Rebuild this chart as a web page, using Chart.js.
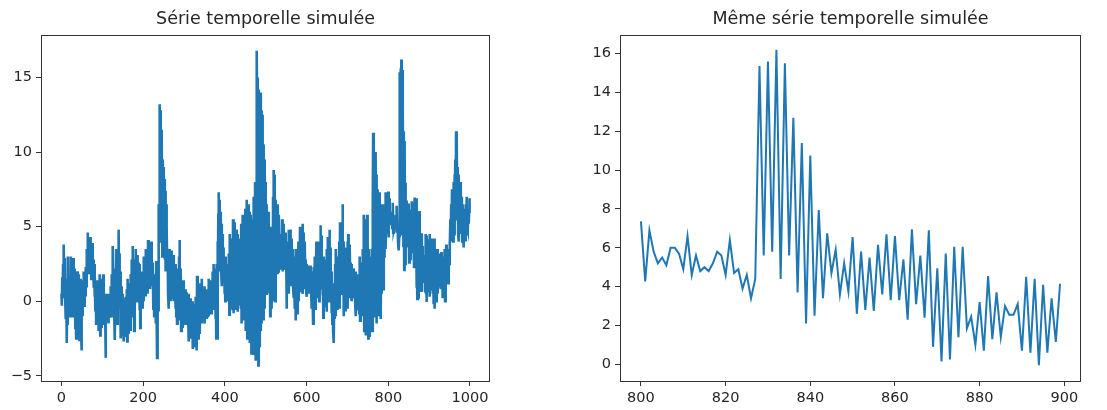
<!DOCTYPE html>
<html>
<head>
<meta charset="utf-8">
<script src="https://cdn.jsdelivr.net/npm/chart.js@4.4.1/dist/chart.umd.min.js"></script>
<style>
  html, body { margin: 0; padding: 0; background: #fff; }
  #wrap { position: relative; width: 1107px; height: 410px; }
  #leftChart { position: absolute; left: 0; top: 0; }
  #rightChart { position: absolute; left: 553px; top: 0; }
</style>
</head>
<body>
<div id="wrap">
  <canvas id="leftChart" width="553" height="410"></canvas>
  <canvas id="rightChart" width="554" height="410"></canvas>
</div>
<script>
// --- Values ---
// series, points 0..799
const serieDebut = [
  0.5, -0.3, 1.6, 0.2, 2.5, 0.8, 3.8, 1.2, 2.9, 0.4,
  1.5, -1.2, 0.8, -2.8, 0.3, -1.6, 3.0, -0.5, 1.2, -1.0,
  0.4, -0.8, 1.5, 3.0, 0.2, 1.8, -1.0, 2.6, 0.5, 2.9,
  1.2, 2.2, -0.4, 1.5, -1.8, 0.6, -2.5, 1.0, -1.2, 2.0,
  -0.5, 1.8, -1.5, 0.9, -2.6, 0.2, -1.2, 1.5, -2.0, -3.3,
  -0.8, 0.5, -1.0, 1.4, 0.2, 2.0, -0.3, 1.1, 0.4, 1.9,
  2.3, 1.0, 3.5, 2.0, 4.6, 2.4, 4.1, 1.8, 3.6, 2.2,
  4.3, 2.0, 3.8, 1.5, 3.0, 2.4, 3.9, 1.6, 2.8, 0.9,
  2.5, 0.3, 1.8, -0.6, 1.2, -1.5, 0.8, -0.9, 1.4, -1.2,
  0.6, -2.0, 1.2, -1.3, 1.8, -2.3, 0.4, -0.9, 1.5, -1.8,
  0.9, -1.2, 1.8, -0.5, 1.0, -1.5, 0.3, -0.8, -3.8, -0.2,
  0.5, -1.4, 0.2, -0.9, 0.4, -1.5, -0.2, 0.5, -1.1, 0.1,
  -0.6, 1.0, -1.0, 1.8, -0.3, 2.6, 3.7, 0.5, 2.2, -0.4,
  1.5, -2.6, 0.8, -1.2, 3.5, 0.4, 2.8, -1.5, 1.6, 0.2,
  4.8, 1.5, 3.2, -0.5, 2.0, -2.5, 1.0, -1.4, 0.6, -1.8,
  0.5, -2.0, -0.4, -2.7, 0.2, -1.5, -0.2, -2.4, 0.3, -1.2,
  0.8, -2.7, 1.5, -1.6, 0.4, -2.2, 1.2, -0.8, 0.6, -2.0,
  1.8, -1.0, 2.8, -0.5, 1.5, 3.7, 0.4, 2.5, -2.0, 1.0,
  2.8, 0.5, 3.5, 1.2, 2.2, 0.0, 3.1, 1.5, 2.6, 0.8,
  1.9, -0.6, 2.5, -1.8, 1.2, -0.4, 2.0, 0.2, 1.5, -0.5,
  1.8, 0.0, 3.0, 0.8, 2.4, 0.4, 3.5, 1.0, 2.2, 0.6,
  3.2, 0.5, 4.1, 1.4, 3.6, 0.9, 2.8, 1.6, 3.9, 1.2,
  4.0, 1.0, 2.6, 0.8, 2.0, -0.5, 1.5, -1.0, 1.8, 0.2,
  1.2, -1.5, 2.7, -0.8, -3.8, 0.5, 2.0, -0.6, 6.5, 4.0,
  13.2, 6.5, 12.8, 5.0, 11.5, 4.2, 10.8, 3.0, 9.5, 4.5,
  9.0, 3.5, 8.2, 2.8, 7.4, 2.0, 6.5, 3.2, 5.0, 2.1,
  3.3, 0.5, 2.6, -0.5, 3.5, 0.8, 2.2, 0.0, 1.5, 0.6,
  3.4, 0.2, 2.5, 1.0, 3.1, 0.0, 2.0, 0.8, 1.6, -0.5,
  2.5, -1.0, 1.8, -1.5, 1.2, -0.8, 2.2, -0.2, 3.0, 4.1,
  1.5, -1.2, 2.2, -2.0, 1.0, -1.4, 0.6, -1.8, 1.4, -0.9,
  1.0, -1.5, 0.4, -0.8, 0.8, -1.2, -0.2, 0.6, -1.5, 0.2,
  -0.5, -2.7, 0.5, -1.8, -0.3, -2.2, 0.2, -2.5, -0.8, -2.0,
  0.0, -3.2, -0.9, -2.4, -0.2, -3.0, -1.0, -2.6, 0.3, -3.1,
  -1.2, -3.3, 1.7, -2.0, 0.5, -2.5, 1.2, -1.5, 0.2, -2.2,
  1.2, -1.0, 0.6, -1.5, 1.5, -0.6, 0.8, -1.2, 0.3, -0.8,
  1.0, -1.5, 0.5, -0.7, 0.8, -1.2, 0.2, -1.0, 0.6, -0.4,
  1.5, -1.0, 0.8, -0.5, 1.2, 0.0, 1.4, -0.8, 0.9, -0.2,
  2.0, -0.5, 2.5, 0.5, 1.8, 0.0, 2.2, -1.2, 1.6, -2.5,
  2.5, -2.5, 4.0, 0.5, 5.8, 7.3, 3.5, 6.8, 2.0, 5.5,
  6.0, 2.0, 5.2, 1.0, 4.5, 1.8, 3.6, 1.2, 3.0, 0.5,
  2.6, 0.0, 3.0, 0.6, 2.2, 0.2, 1.8, 0.0, 2.5, 0.4,
  3.2, -0.9, 4.5, 0.5, 2.8, -0.5, 3.8, 0.2, 4.2, -0.6,
  5.5, -0.8, 4.2, 0.2, 5.3, -0.5, 3.5, 0.8, 4.8, -0.3,
  4.5, -0.7, 3.6, 0.4, 4.2, -0.2, 2.8, 0.6, 3.9, -0.5,
  5.2, -1.5, 4.0, 0.2, 5.8, -0.8, 4.6, -1.2, 5.0, 0.0,
  6.2, -2.0, 5.5, -1.0, 6.8, -2.5, 5.0, -1.5, 6.5, -0.8,
  6.0, -2.8, 5.2, -1.8, 5.8, -3.5, 4.8, -2.2, 5.5, -3.0,
  7.0, -3.6, 6.5, -2.8, 8.0, -4.0, 7.5, -3.2, 16.8, 12.0,
  -3.5, 15.0, -4.3, 14.2, -3.0, 13.5, -2.5, 14.0, -2.0, 12.8,
  -1.5, 12.5, -0.8, 11.0, -1.2, 10.5, 0.0, 9.5, -0.5, 8.0,
  7.0, 0.5, 6.5, 1.5, 5.5, 0.8, 6.0, 1.2, 5.0, 0.6,
  4.5, -1.0, 5.0, 0.5, 3.8, -0.5, 4.6, 0.0, 7.0, 2.0,
  8.8, 1.0, 8.5, 0.0, 6.8, 1.5, 6.0, 2.5, 5.5, 1.8,
  6.5, 2.0, 5.8, 2.8, 4.5, 2.2, 4.0, 3.0, 4.4, 2.4,
  5.5, 2.0, 4.8, 2.6, 5.2, 2.2, 4.0, 3.0, 4.6, 2.1,
  3.5, -0.5, 4.0, 0.8, 3.0, 1.5, 4.8, 0.5, 3.6, 1.2,
  4.8, 1.0, 3.6, 2.0, 4.2, 1.4, 3.5, 1.0, 2.8, 0.2,
  3.0, -0.5, 2.5, -1.3, 3.5, 0.0, 2.2, -0.8, 3.2, 0.5,
  4.0, 0.0, 3.5, 1.0, 5.0, 0.6, 4.2, 1.5, 3.8, 0.8,
  5.2, 0.5, 4.6, 1.2, 3.5, 0.8, 4.0, 1.5, 2.8, 0.6,
  2.5, 0.3, 2.0, 1.0, 2.4, 0.5, 1.8, 1.2, 2.2, 0.6,
  2.4, 0.8, 1.5, -0.5, 2.0, 0.0, -1.5, 1.2, 2.3, 0.4,
  3.0, -0.5, 2.5, 0.5, 4.0, 1.0, 3.2, 0.2, 2.6, 0.8,
  4.0, 0.0, 3.5, 1.2, 5.1, 0.8, 4.4, 1.5, 3.0, 0.4,
  2.5, -1.1, 3.0, 0.5, 2.2, -0.4, 2.8, 0.0, 1.8, -0.7,
  3.5, 0.2, 4.3, 0.8, 3.0, 0.0, 4.8, 1.2, 3.6, 0.5,
  2.0, -0.8, 1.5, -1.5, 1.2, -2.0, 0.8, -2.8, 1.0, -1.2,
  2.5, -1.0, 3.5, 0.2, 2.8, -0.5, 3.0, 0.5, 2.2, 0.0,
  4.0, -0.5, 5.3, 1.0, 4.5, 0.5, 3.8, 1.2, 6.5, 2.0,
  4.0, -1.0, 3.2, 0.5, 2.5, -0.6, 3.6, 0.0, 2.8, -0.2,
  4.0, -0.5, 4.5, 0.5, 3.0, 0.2, 3.8, 1.0, 2.6, 0.4,
  2.5, 0.0, 2.0, 0.8, 1.5, 0.2, 2.2, 0.6, 1.2, -0.2,
  2.0, -1.0, 1.5, 0.0, 1.8, -0.6, 1.0, -0.2, 1.6, -0.8,
  3.0, -1.3, 2.4, 0.0, 1.8, -0.8, 2.6, -1.0, 3.5, 0.5,
  5.8, -2.0, 4.5, -1.0, 5.5, -2.3, 3.8, -1.5, 5.8, -2.0,
  4.0, -2.5, 3.5, -1.5, 2.8, -2.4, 3.0, -2.0, 2.5, -1.5,
  3.5, -2.0, 6.0, 11.3, 2.0, 10.8, -1.0, 9.5, 1.0, 10.0,
  3.0, 8.5, -1.5, 7.5, 1.0, 6.8, -1.0, 5.5, 0.5, 7.3,
  2.0, 6.0, -1.2, 5.5, 0.5, 6.5, 1.2, 4.0, 0.8, 5.2,
  3.0, 6.5, 4.0, 7.3, 3.5, 6.0, 5.0, 7.0, 4.5, 6.2
];

// points 800..899 (also the right-hand panel)
const serieZoom = [
  7.36, 4.27, 6.9, 5.8, 5.2, 5.5, 5.1, 6.0, 6.0, 5.7,
  4.9, 6.6, 4.6, 5.6, 4.8, 5.0, 4.8, 5.2, 5.8, 5.6,
  4.6, 6.4, 4.7, 4.9, 3.9, 4.6, 3.4, 4.4, 15.36, 5.6,
  15.6, 5.8, 16.2, 4.4, 15.5, 5.6, 12.7, 3.7, 11.4, 2.1,
  10.75, 2.5, 7.95, 3.4, 6.75, 4.7, 5.9, 3.6, 5.2, 3.75,
  6.55, 2.6, 5.8, 2.8, 5.5, 2.75, 6.15, 3.6, 6.7, 3.3,
  6.6, 3.3, 5.4, 2.3, 6.95, 3.1, 5.6, 2.4, 6.9, 0.9,
  4.95, 0.15, 5.7, 0.25, 6.05, 1.4, 6.05, 1.85, 2.45, 1.0,
  3.2, 0.7, 4.55, 1.3, 3.7, 1.4, 3.0, 2.55, 2.55, 3.1,
  0.7, 4.5, 0.6, 4.4, -0.05, 4.1, 0.6, 3.4, 1.15, 4.15
];

// points 900..999
const serieFin = [
  4.0, 0.3, 4.5, 1.2, 3.5, 0.8, 4.2, 1.5, 3.0, 0.5,
  3.8, -0.2, 4.2, -0.5, 3.5, 0.8, 2.8, 0.0, 3.2, 0.6,
  3.5, 0.5, 2.8, 1.2, 3.2, 1.0, 2.5, 1.5, 3.0, 0.8,
  3.3, 1.0, 2.6, 0.2, 3.0, 1.5, 2.2, 0.5, 3.5, 0.0,
  3.0, 1.0, 3.8, 1.5, 3.2, 2.0, 3.5, 1.2, 3.0, 2.5,
  4.0, 3.5, 5.5, 4.0, 6.5, 4.5, 7.5, 5.0, 6.0, 4.0,
  8.0, 4.5, 8.5, 5.0, 9.5, 6.0, 11.4, 7.0, 11.0, 5.5,
  9.0, 4.5, 8.5, 4.0, 7.5, 5.0, 8.0, 4.5, 6.5, 5.5,
  7.0, 4.0, 6.5, 5.0, 6.0, 3.6, 5.5, 4.2, 6.2, 4.0,
  6.5, 4.5, 7.0, 5.0, 6.2, 4.8, 5.8, 5.2, 6.0, 6.9
];

const zoomStart = 800;

// tick labels
const leftXTicks = [0, 200, 400, 600, 800, 1000];
const leftYTicks = [-5, 0, 5, 10, 15];
const rightXTicks = [800, 820, 840, 860, 880, 900];
const rightYTicks = [0, 2, 4, 6, 8, 10, 12, 14, 16];

const lineColor = "#1f77b4";
const textColor = "#262626";
const fontFamily = "'DejaVu Sans', sans-serif";

// full series for the left panel
const serieComplete = serieDebut.concat(serieZoom, serieFin);

// draws the four sides of the axes box
const boxPlugin = {
  id: "axesBox",
  afterDraw(chart) {
    const a = chart.chartArea;
    const ctx = chart.ctx;
    ctx.save();
    ctx.strokeStyle = "#333";
    ctx.lineWidth = 1;
    ctx.strokeRect(Math.round(a.left) + 0.5, Math.round(a.top) + 0.5,
      Math.round(a.right - a.left) - 1, Math.round(a.bottom - a.top));
    ctx.restore();
  },
};

function fmt(v) {
  return v < 0 ? "\u2212" + Math.abs(v) : String(v);
}

function makeScale(min, max, tickList, fitSize, isX) {
  return {
    type: "linear",
    min: min,
    max: max,
    border: { display: false },
    grid: {
      display: true,
      drawOnChartArea: false,
      drawTicks: true,
      tickLength: 5,
      tickColor: "#333",
      tickWidth: 1,
    },
    ticks: {
      color: textColor,
      font: { family: fontFamily, size: 14.5 },
      padding: 4,
      maxRotation: 0,
      autoSkip: false,
      callback: (v) => fmt(v),
    },
    afterBuildTicks: (scale) => {
      scale.ticks = tickList.map((v) => ({ value: v }));
    },
    afterFit: (scale) => {
      if (isX) scale.height = fitSize;
      else scale.width = fitSize;
    },
  };
}

function makeOptions(title, xScale, yScale, padRight) {
  return {
    responsive: false,
    animation: false,
    events: [],
    layout: { padding: { left: 0, right: padRight, top: 0, bottom: 0 } },
    plugins: {
      legend: { display: false },
      tooltip: { enabled: false },
      title: {
        display: true,
        text: title,
        fullSize: false,
        color: textColor,
        font: { family: fontFamily, size: 17.5, weight: "normal" },
        padding: { top: 9, bottom: 5 },
      },
    },
    scales: { x: xScale, y: yScale },
  };
}

// left panel: whole series
new Chart(document.getElementById("leftChart").getContext("2d"), {
  type: "line",
  data: {
    datasets: [
      {
        data: serieComplete.map((y, i) => ({ x: i, y: y })),
        borderColor: lineColor,
        borderWidth: 2.6,
        pointRadius: 0,
        tension: 0,
      },
    ],
  },
  options: makeOptions(
    "Série temporelle simulée",
    makeScale(-50, 1049, leftXTicks, 29, true),
    makeScale(-5.35, 17.85, leftYTicks, 41, false),
    63
  ),
  plugins: [boxPlugin],
});

// right panel: points 800..899
new Chart(document.getElementById("rightChart").getContext("2d"), {
  type: "line",
  data: {
    datasets: [
      {
        data: serieZoom.map((y, i) => ({ x: zoomStart + i, y: y })),
        borderColor: lineColor,
        borderWidth: 2,
        pointRadius: 0,
        tension: 0,
      },
    ],
  },
  options: makeOptions(
    "Même série temporelle simulée",
    makeScale(795.05, 903.95, rightXTicks, 29, true),
    makeScale(-0.86, 16.96, rightYTicks, 67, false),
    26
  ),
  plugins: [boxPlugin],
});
</script>
</body>
</html>
